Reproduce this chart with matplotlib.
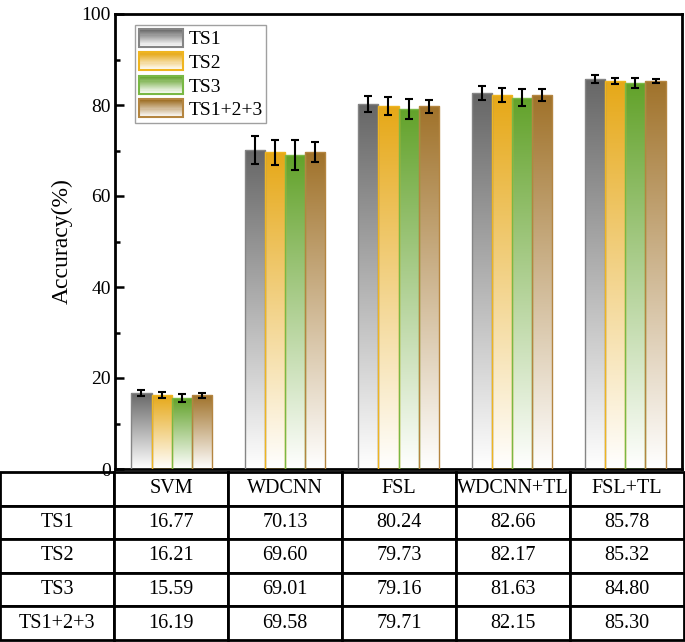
import numpy as np
import matplotlib
matplotlib.use('Agg')
import matplotlib.pyplot as plt
from matplotlib.colors import to_rgb
from matplotlib.patches import Rectangle
from matplotlib.legend_handler import HandlerBase

plt.rcParams['font.family'] = ['Liberation Serif', 'DejaVu Serif']

methods = ['SVM', 'WDCNN', 'FSL', 'WDCNN+TL', 'FSL+TL']
series = ['TS1', 'TS2', 'TS3', 'TS1+2+3']
ts1 = [16.77, 70.13, 80.24, 82.66, 85.78]
ts2 = [16.21, 69.60, 79.73, 82.17, 85.32]
ts3 = [15.59, 69.01, 79.16, 81.63, 84.80]
ts123 = [16.19, 69.58, 79.71, 82.15, 85.30]
ts1_err = [0.7, 3.0, 1.8, 1.6, 0.9]
ts2_err = [0.7, 2.8, 2.0, 1.5, 0.7]
ts3_err = [0.8, 3.2, 2.2, 1.9, 1.1]
ts123_err = [0.5, 2.2, 1.4, 1.3, 0.5]

values = [ts1, ts2, ts3, ts123]
errors = [ts1_err, ts2_err, ts3_err, ts123_err]
top_colors = ['#666666', '#e6a817', '#62a22a', '#a0722a']
edge_colors = ['#858585', '#efb520', '#79b845', '#b48540']


def gradient(color, n=256):
    # color at the top fading to white at the bottom
    c = np.array(to_rgb(color))
    t = np.linspace(0, 1, n)[:, None]
    return (c * (1 - t) + np.ones(3) * t)[:, None, :]


class GradientHandler(HandlerBase):
    def create_artists(self, legend, orig_handle, xdescent, ydescent,
                       width, height, fontsize, trans):
        fc = orig_handle.get_facecolor()
        ec = orig_handle.get_edgecolor()
        n = 16
        arts = []
        grad = gradient(fc, n)[:, 0, :]
        for i in range(n):
            y = -ydescent + height * (1 - (i + 1) / n)
            arts.append(Rectangle((-xdescent, y), width, height / n,
                                  facecolor=grad[i], edgecolor='none',
                                  transform=trans))
        arts.append(Rectangle((-xdescent, -ydescent), width, height,
                              facecolor='none', edgecolor=ec, lw=1.5,
                              transform=trans))
        return arts


fig = plt.figure(figsize=(6.85, 6.42), dpi=100)
fig.subplots_adjust(left=115 / 685, right=682 / 685, top=1 - 14 / 642,
                    bottom=1 - 469 / 642)
ax = fig.add_subplot(111)

x = np.arange(len(methods))
w = 0.178
for i, (vals, errs) in enumerate(zip(values, errors)):
    pos = x + (i - 1.5) * w
    bars = ax.bar(pos, vals, w, facecolor='none', edgecolor=edge_colors[i],
                  linewidth=1.0, zorder=3)
    for b in bars:
        img = ax.imshow(gradient(top_colors[i]), aspect='auto',
                        extent=(b.get_x(), b.get_x() + b.get_width(), 0, b.get_height()),
                        zorder=2, interpolation='bilinear')
        img.set_clip_path(b)
    ax.errorbar(pos, vals, yerr=errs, fmt='none', ecolor='black',
                elinewidth=1.5, capsize=3, capthick=1.5, zorder=4)

ax.set_xlim(-0.5, len(methods) - 0.5)
ax.set_ylim(0, 100)
ax.set_yticks([0, 20, 40, 60, 80, 100])
ax.set_yticks([10, 30, 50, 70, 90], minor=True)
ax.tick_params(axis='y', which='major', direction='in', length=6.5, width=1.8,
               labelsize=14, pad=3)
ax.tick_params(axis='y', which='minor', direction='in', length=3.6, width=1.8)
ax.set_xticks([])
for s in ax.spines.values():
    s.set_linewidth(2.0)
ax.set_ylabel('Accuracy(%)', fontsize=17, labelpad=6)

proxies = [Rectangle((0, 0), 1, 1, facecolor=top_colors[i], edgecolor=edge_colors[i])
           for i in range(len(series))]
leg = ax.legend(proxies, series, handler_map={Rectangle: GradientHandler()},
                loc='upper left', bbox_to_anchor=(0.035, 0.976), fontsize=14,
                handlelength=2.3, handleheight=1.05, labelspacing=0.2,
                handletextpad=0.25, borderpad=0.2, borderaxespad=0,
                fancybox=False, framealpha=1)
leg.get_frame().set_edgecolor('#a0a0a0')
leg.get_frame().set_linewidth(1.0)

# table under the bars
cell_text = [[''] + methods]
for name, vals in zip(series, values):
    cell_text.append([name] + ['%.2f' % v for v in vals])
table = ax.table(cellText=cell_text, cellLoc='center',
                 bbox=[-0.2028, -0.3758, 1.2063, 0.3692])
table.auto_set_font_size(False)
table.set_fontsize(14.5)
for cell in table.get_celld().values():
    cell.set_linewidth(2.0)
    cell.set_edgecolor('black')

fig.savefig('out.png', dpi=100)
